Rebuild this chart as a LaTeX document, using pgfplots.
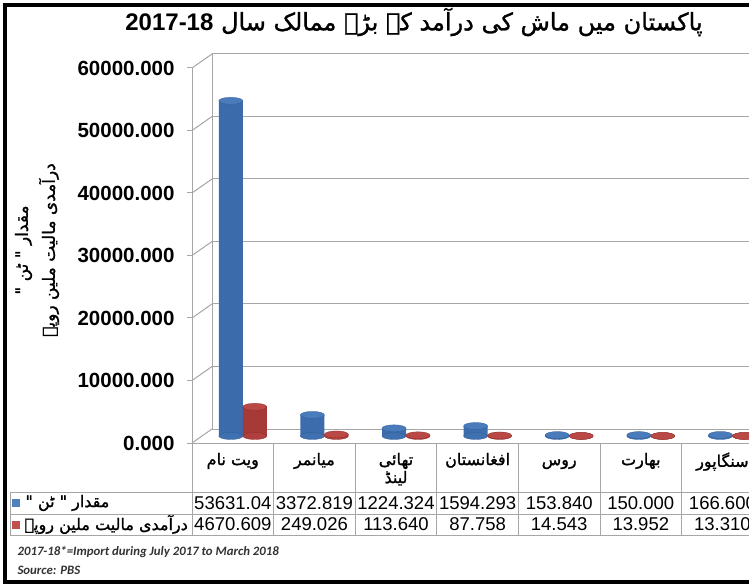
\documentclass[border=0pt]{standalone}
\usepackage{fontspec}
\usepackage{pgfplots}
\usepackage{pgfplotstable}
\pgfplotsset{compat=1.18}
\setmainfont{Liberation Sans}
\newfontfamily\urdu[Script=Arabic]{DejaVu Sans}
\newfontfamily\urdub[Script=Arabic,FakeBold=1.2]{DejaVu Sans}
\newfontfamily\calibri{Carlito}
\TeXXeTstate=1

\definecolor{xlblue}{HTML}{4F81BD}
\definecolor{bluel}{HTML}{3B6BAA}
\definecolor{bluem}{HTML}{76A2DB}
\definecolor{bluer}{HTML}{3F70B0}
\definecolor{bluetop}{HTML}{4A7BBB}
\definecolor{blueedge}{HTML}{2F5D99}
\definecolor{xlred}{HTML}{C0504D}
\definecolor{redl}{HTML}{A53A37}
\definecolor{redm}{HTML}{DC6864}
\definecolor{redr}{HTML}{B0403D}
\definecolor{redtop}{HTML}{BA4946}
\definecolor{rededge}{HTML}{8E2D2A}
\definecolor{gridgray}{HTML}{A6A6A6}

% top / bottom of a cylinder
\pgfdeclareplotmark{cyl}{%
  \pgfpathellipse{\pgfpointorigin}{\pgfqpoint{12pt}{0pt}}{\pgfqpoint{0pt}{3.5pt}}%
  \pgfusepathqfillstroke}

\pgfplotstableread{
idx tons mrs
0 53631.04 4670.609
1 3372.819 249.026
2 1224.324 113.640
3 1594.293 87.758
4 153.840 14.543
5 150.000 13.952
6 166.600 13.310
}\mashdata

\begin{document}
\begin{tikzpicture}[x=1pt,y=1pt]
\useasboundingbox (0,0) rectangle (749,584);
\fill[white] (0,0) rectangle (749,584);
\clip (0,0) rectangle (749,584);

% back wall
\begin{axis}[at={(212pt,155pt)}, anchor=south west, scale only axis,
  width=571.2pt, height=375pt,
  xmin=-0.5, xmax=6.5, ymin=0, ymax=60000,
  axis lines*=left, axis line style={draw=gridgray, line width=1pt},
  xtick=\empty, ytick={0,10000,20000,30000,40000,50000,60000}, yticklabels={},
  major tick length=0pt, scaled y ticks=false,
  ymajorgrids, grid style={draw=gridgray, line width=1pt},
  clip=false]
\end{axis}

% front: ticks, labels, floor
\begin{axis}[at={(192pt,141pt)}, anchor=south west, scale only axis,
  width=571.2pt, height=375pt,
  xmin=-0.5, xmax=6.5, ymin=0, ymax=60000,
  axis lines*=left, axis line style={draw=gridgray, line width=1pt},
  ytick={0,10000,20000,30000,40000,50000,60000}, tick align=outside, major tick length=5pt,
  scaled y ticks=false,
  y tick style={draw=gridgray, line width=1pt},
  xtick={0,1,2,3,4,5,6}, x tick style={draw=none},
  xticklabels={{\strut\beginR ویت نام\endR},{\strut\beginR میانمر\endR},{\strut\beginR تھائی\endR\\\beginR لینڈ\endR},{\strut\beginR افغانستان\endR},{\strut\beginR روس\endR},{\strut\beginR بھارت\endR},{\strut\beginR سنگاپور\endR}},
  xticklabel style={font=\urdub\fontsize{16}{18}\selectfont, align=center, anchor=north, yshift=-1pt},
  yticklabel style={font=\fontsize{20.5}{24}\selectfont\bfseries, xshift=-9pt},
  clip=false,
  /pgf/number format/.cd, fixed, fixed zerofill, precision=3, 1000 sep={}, assume math mode=true]
\pgfplotsinvokeforeach{0,10000,20000,30000,40000,50000,60000}{
  \draw[gridgray, line width=1pt] (axis cs:-0.5,#1) -- ++(20pt,14pt);
}
\end{axis}

% cylinders, at half depth
\begin{axis}[at={(202pt,148pt)}, anchor=south west, scale only axis,
  width=571.2pt, height=375pt,
  xmin=-0.5, xmax=6.5, ymin=0, ymax=60000,
  hide axis, clip=false]
\addplot[only marks, mark=cyl, mark options={xshift=-12pt, fill=bluer, draw=blueedge, line width=0.3pt}]
  table[x=idx, y expr=0] {\mashdata};
\addplot[ybar, bar width=24pt, bar shift=-12pt, draw=none,
  left color=bluel, middle color=bluem, right color=bluer]
  table[x=idx, y=tons] {\mashdata};
\addplot[only marks, mark=cyl, mark options={xshift=-12pt, fill=bluetop, draw=blueedge, line width=0.3pt}]
  table[x=idx, y=tons] {\mashdata};
\addplot[only marks, mark=cyl, mark options={xshift=12pt, fill=redr, draw=rededge, line width=0.3pt}]
  table[x=idx, y expr=0] {\mashdata};
\addplot[ybar, bar width=24pt, bar shift=12pt, draw=none,
  left color=redl, middle color=redm, right color=redr]
  table[x=idx, y=mrs] {\mashdata};
\addplot[only marks, mark=cyl, mark options={xshift=12pt, fill=redtop, draw=rededge, line width=0.3pt}]
  table[x=idx, y=mrs] {\mashdata};
\end{axis}

% data table
\begin{scope}[gridgray, line width=1pt]
\foreach \k in {0,...,7} \draw (192+81.6*\k,141) -- (192+81.6*\k,49);
\draw (10,92) -- (800,92);
\draw (10,70) -- (800,70);
\draw (10,49) -- (800,49);
\draw (10,92) -- (10,49);
\end{scope}
\fill[xlblue] (12,77) rectangle (20,85);
\fill[xlred] (12,55.5) rectangle (20,63.5);
\node[anchor=west, font=\urdub\fontsize{16}{19}\selectfont] at (22,81) {\beginR مقدار " ٹن "\endR};
\node[anchor=west, font=\urdub\fontsize{16}{19}\selectfont] at (21,59.5) {\beginR درآمدی مالیت ملین روپے\endR};
\foreach \v [count=\i from 0] in {53631.04,3372.819,1224.324,1594.293,153.840,150.000,166.600}
  \node[font=\fontsize{18.5}{21}\selectfont] at (192+81.6*\i+40.8,81) {\v};
\foreach \v [count=\i from 0] in {4670.609,249.026,113.640,87.758,14.543,13.952,13.310}
  \node[font=\fontsize{18.5}{21}\selectfont] at (192+81.6*\i+40.8,59.5) {\v};

% y label
\node[rotate=90, align=center, font=\urdub\fontsize{17}{27}\selectfont] at (37,334)
  {\beginR مقدار " ٹن "\endR\\\beginR درآمدی مالیت ملین روپے\endR};

% title
\node[font=\urdub\fontsize{24}{28}\selectfont] at (414,562)
  {\beginR پاکستان میں ماش کی درآمد کے بڑے ممالک سال \beginL{\rmfamily\bfseries 2017-18}\endL\endR};

% notes
\node[anchor=west, font=\calibri\fontsize{12.8}{15}\selectfont\bfseries\itshape, text=black!80] at (14,32)
  {2017-18*=Import during July 2017 to March 2018};
\node[anchor=west, font=\calibri\fontsize{12.8}{15}\selectfont\bfseries\itshape, text=black!80] at (14,14)
  {Source: PBS};

% frame
\draw[line width=3.5pt] (5,2) rectangle (820,579);
\end{tikzpicture}
\end{document}
